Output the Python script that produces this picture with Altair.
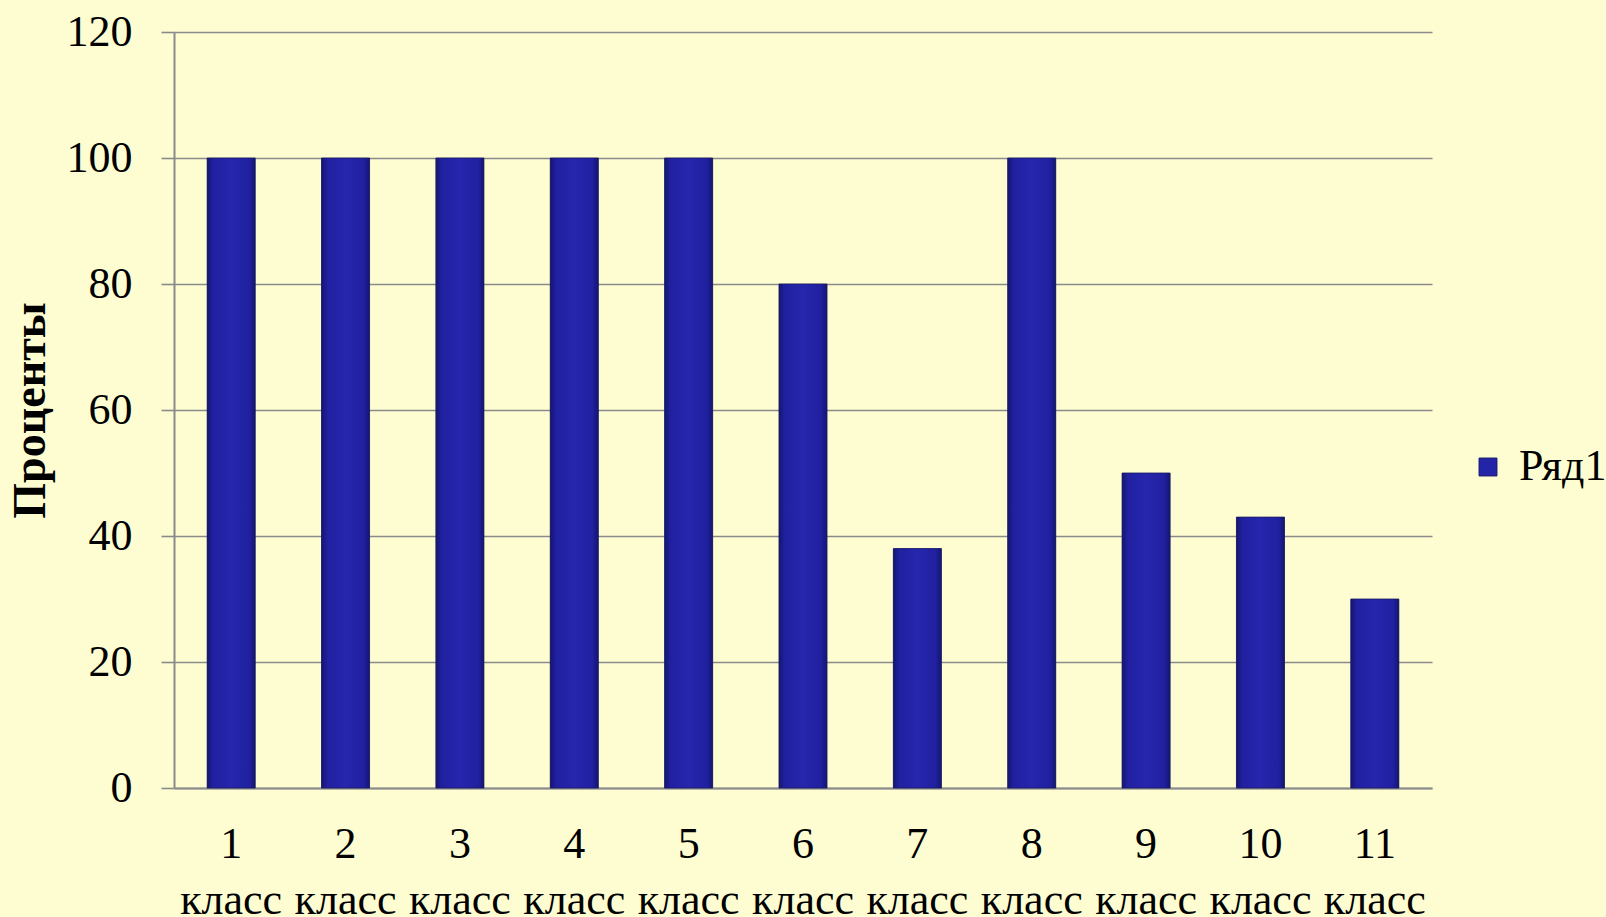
import altair as alt
import pandas as pd

categories = ["1 класс", "2 класс", "3 класс", "4 класс", "5 класс", "6 класс",
              "7 класс", "8 класс", "9 класс", "10 класс", "11 класс"]
values = [100, 100, 100, 100, 100, 80, 38, 100, 50, 43, 30]
series = ["Ряд1"] * len(categories)

df = pd.DataFrame({"cat": categories, "val": values, "series": series})

FONT = "Liberation Serif"

x = alt.X("cat:N", sort=categories, title=None,
          scale=alt.Scale(paddingInner=0.58, paddingOuter=0.29),
          axis=alt.Axis(labelExpr="split(datum.label, ' ')", labelAngle=0,
                        labelFontSize=44, labelFont=FONT, labelColor="#000",
                        labelLineHeight=56, labelPadding=34, ticks=False,
                        domainColor="#8a8a8a", domainWidth=2, labelBaseline="top"))
y = alt.Y("val:Q", title="Проценты",
          scale=alt.Scale(domain=[0, 120]),
          axis=alt.Axis(values=[0, 20, 40, 60, 80, 100, 120], grid=True,
                        gridColor="#8a8a8a", gridWidth=1.6, tickColor="#8a8a8a",
                        tickSize=13, tickWidth=1.6, domainColor="#8a8a8a", domainWidth=2,
                        labelFontSize=44, labelFont=FONT, labelColor="#000", labelPadding=29,
                        titleFontSize=46, titleFont=FONT, titleFontWeight="bold",
                        titleColor="#000", titleAngle=270, titleX=-144, titleY=378,
                        titleBaseline="middle", titleAlign="center"))

legend_layer = alt.Chart(df).mark_bar().encode(
    x=x, y=y,
    color=alt.Color("series:N", title=None,
                    scale=alt.Scale(range=["#2424A8"]),
                    legend=alt.Legend(orient="none", legendX=1292, legendY=413,
                                      symbolType="square", symbolSize=320,
                                      symbolStrokeColor="#15156E", symbolStrokeWidth=1,
                                      labelFontSize=44, labelFont=FONT, labelColor="#000",
                                      labelOffset=9, labelLimit=200)),
)

grad = alt.Gradient(
    gradient="linear", x1=0, x2=1, y1=0, y2=0,
    stops=[
        alt.GradientStop(color="#151570", offset=0),
        alt.GradientStop(color="#2020A0", offset=0.12),
        alt.GradientStop(color="#2626AE", offset=0.5),
        alt.GradientStop(color="#2020A0", offset=0.88),
        alt.GradientStop(color="#151570", offset=1),
    ],
)

bar_layer = alt.Chart(df).mark_bar(color=grad, stroke="#1a1a60", strokeWidth=0.8).encode(x=x, y=y)

chart = alt.layer(legend_layer, bar_layer).properties(
    width=1258, height=756,
    padding={"left": 174, "top": 32, "right": 174, "bottom": 129},
    autosize=alt.AutoSizeParams(type="none"),
    background="#FEFDD2",
).configure(font=FONT).configure_view(stroke=None).configure_legend(
    labelFont=FONT, labelFontSize=44)

chart.save("out.html", embed_options={"renderer": "svg", "actions": False})
